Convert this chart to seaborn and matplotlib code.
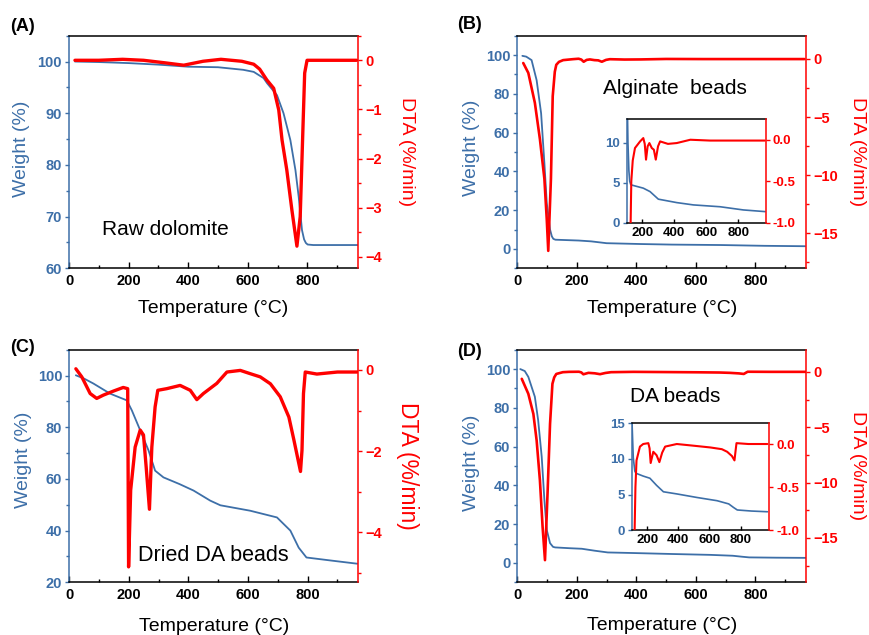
import matplotlib
matplotlib.use("Agg")
import matplotlib.pyplot as plt
import seaborn as sns
import pandas as pd
from matplotlib.ticker import MultipleLocator

sns.set_theme(style="ticks")
plt.rcParams['font.family'] = ['Liberation Sans', 'DejaVu Sans']
plt.rcParams['axes.unicode_minus'] = True

BLUE = "#3d6fa8"
RED = "#ff0000"

# ---------------- data ----------------
# (A) Raw dolomite
TA_w = [20, 100, 200, 300, 400, 500, 585, 620, 653, 665, 698, 720, 743, 760, 771, 782, 789, 795, 801, 820, 900, 970]
WA = [100.0, 99.9, 99.7, 99.4, 99.0, 98.9, 98.4, 98.0, 96.8, 95.8, 93.5, 90.0, 84.8, 79.0, 73.8, 67.4, 65.6, 64.9, 64.6, 64.5, 64.5, 64.5]
TA_d = [20, 100, 180, 250, 320, 385, 450, 510, 580, 620, 640, 664, 687, 704, 715, 731, 748, 765, 776, 785, 791, 799, 850, 900, 965]
DA = [0.0, 0.0, 0.02, 0.0, -0.05, -0.1, -0.02, 0.02, -0.02, -0.08, -0.18, -0.4, -0.57, -1.01, -1.62, -2.23, -3.04, -3.78, -3.18, -1.42, -0.26, 0.0, 0.0, 0.0, 0.0]

# (B) Alginate beads
TB_w = [17, 30, 48, 65, 80, 91, 99, 110, 116, 121, 128, 206, 248, 300, 415, 519, 686, 831, 967]
WB = [99.6, 99.2, 97.4, 87.0, 70.0, 44.3, 23.7, 10.0, 6.5, 5.2, 4.75, 4.33, 3.9, 2.95, 2.52, 2.23, 2.0, 1.6, 1.39]
TB_d = [20, 37, 59, 76, 91, 99, 104, 113, 119, 126, 131, 140, 154, 186, 206, 215, 223, 233, 244, 259, 272, 284, 298, 311, 360, 415, 500, 623, 800, 965]
DB = [-0.35, -1.2, -3.77, -6.9, -10.3, -13.8, -16.5, -10.3, -3.2, -1.1, -0.5, -0.25, -0.1, -0.02, 0.02, -0.05, -0.24, -0.08, -0.04, -0.10, -0.12, -0.24, -0.08, -0.02, -0.05, -0.04, 0.0, -0.01, -0.01, -0.01]

# (C) Dried DA beads
TC_w = [22, 50, 81, 137, 193, 210, 238, 266, 288, 316, 370, 417, 473, 507, 607, 697, 742, 770, 796, 880, 966]
WC = [100.1, 98.8, 96.9, 93.0, 90.4, 86.5, 78.8, 71.0, 63.2, 60.6, 58.0, 55.5, 51.6, 49.8, 47.7, 45.1, 40.0, 33.4, 29.6, 28.4, 27.2]
TC_d = [22, 42, 70, 92, 114, 148, 181, 196, 199, 206, 221, 238, 249, 258, 269, 277, 288, 297, 327, 372, 406, 428, 450, 495, 529, 574, 607, 641, 675, 708, 737, 754, 776, 781, 786, 792, 831, 900, 966]
DC = [0.03, -0.17, -0.58, -0.7, -0.62, -0.52, -0.43, -0.46, -4.85, -2.96, -1.9, -1.48, -1.6, -2.39, -3.43, -1.9, -0.91, -0.5, -0.46, -0.38, -0.5, -0.73, -0.58, -0.33, -0.05, -0.01, -0.09, -0.17, -0.34, -0.66, -1.16, -1.73, -2.5, -1.98, -0.58, -0.05, -0.1, -0.05, -0.05]

# (D) DA beads
TD_w = [10, 25, 37, 59, 70, 82, 91, 99, 110, 120, 127, 174, 217, 260, 304, 390, 520, 649, 724, 755, 779, 870, 973]
WD = [100.0, 99.0, 96.0, 85.7, 73.7, 54.8, 32.5, 17.0, 10.2, 8.3, 8.0, 7.6, 7.3, 6.3, 5.4, 5.1, 4.6, 4.15, 3.7, 3.2, 2.85, 2.7, 2.6]
TD_d = [15, 37, 54, 65, 76, 85, 93, 102, 110, 118, 124, 131, 153, 174, 207, 215, 222, 239, 260, 278, 296, 315, 390, 500, 606, 680, 714, 745, 761, 768, 774, 850, 973]
DD = [-0.63, -1.98, -3.8, -6.2, -9.8, -14.0, -17.0, -10.7, -4.7, -1.08, -0.5, -0.19, -0.03, 0.0, 0.01, -0.05, -0.22, -0.09, -0.13, -0.21, -0.1, -0.03, 0.0, -0.02, -0.04, -0.06, -0.09, -0.14, -0.19, -0.08, 0.01, 0.0, 0.0]

PANEL_LABELS = ["(A)", "(B)", "(C)", "(D)"]
SAMPLE_NAMES = ["Raw dolomite", "Alginate  beads", "Dried DA beads", "DA beads"]
XLABEL = "Temperature (°C)"
YLABEL_L = "Weight (%)"
YLABEL_R = "DTA (%/min)"

fig = plt.figure(figsize=(8.69, 6.35), dpi=100)
W_PX, H_PX = 869.0, 635.0


def rect(l, t, r, b):
    return [l / W_PX, 1 - b / H_PX, (r - l) / W_PX, (b - t) / H_PX]


def style(ax, ax2, lsize=10.5, llen=3):
    for s in ["top", "bottom"]:
        ax.spines[s].set_color("black")
        ax.spines[s].set_linewidth(1.1)
    ax.spines["left"].set_color(BLUE)
    ax.spines["left"].set_linewidth(1.1)
    ax.spines["right"].set_visible(False)
    for s in ["top", "bottom", "left"]:
        ax2.spines[s].set_visible(False)
    ax2.spines["right"].set_color(RED)
    ax2.spines["right"].set_linewidth(1.1)
    ax.tick_params(axis="x", which="both", direction="in", colors="black", width=1, labelsize=lsize, pad=4)
    ax.tick_params(axis="x", which="major", length=4)
    ax.tick_params(axis="x", which="minor", length=2.5)
    ax.tick_params(axis="y", which="both", direction="out", color=BLUE, labelcolor=BLUE, width=1, labelsize=lsize, pad=2)
    ax.tick_params(axis="y", which="major", length=llen)
    ax.tick_params(axis="y", which="minor", length=llen * 0.7)
    ax2.tick_params(axis="y", which="both", direction="out", color=RED, labelcolor=RED, width=1, labelsize=lsize, pad=2)
    ax2.tick_params(axis="y", which="major", length=llen)
    ax2.tick_params(axis="y", which="minor", length=llen * 0.7)
    plt.setp(ax.get_xticklabels(), fontweight="bold")
    plt.setp(ax.get_yticklabels(), fontweight="bold")
    plt.setp(ax2.get_yticklabels(), fontweight="bold")
    ax.set_xlabel("")
    ax.set_ylabel("")
    ax2.set_ylabel("")
    ax.grid(False)
    ax2.grid(False)


def panel(r, Tw, Wv, Td, Dv, wlim, wmaj, wmin, dlim, dmaj, dmin, red_lw, lab_pos):
    ax = fig.add_axes(rect(*r))
    ax2 = ax.twinx()
    dfw = pd.DataFrame({"T": Tw, "W": Wv})
    dfd = pd.DataFrame({"T": Td, "D": Dv})
    sns.lineplot(data=dfw, x="T", y="W", ax=ax, color=BLUE, lw=1.3, sort=False, estimator=None)
    sns.lineplot(data=dfd, x="T", y="D", ax=ax2, color=RED, lw=red_lw, sort=False, estimator=None)
    ax.set_xlim(0, 970)
    ax.xaxis.set_major_locator(MultipleLocator(200))
    ax.xaxis.set_minor_locator(MultipleLocator(100))
    ax.set_ylim(*wlim)
    ax.yaxis.set_major_locator(MultipleLocator(wmaj))
    ax.yaxis.set_minor_locator(MultipleLocator(wmin))
    ax2.set_ylim(*dlim)
    ax2.yaxis.set_major_locator(MultipleLocator(dmaj))
    ax2.yaxis.set_minor_locator(MultipleLocator(dmin))
    style(ax, ax2)
    xl_y, wl_x, wl_y, dl_x, dl_y, dsize = lab_pos
    xl = ax.set_xlabel(XLABEL, fontsize=14, color="black")
    ax.xaxis.set_label_coords(0.5, xl_y)
    xl.set_va("center")
    yl = ax.set_ylabel(YLABEL_L, fontsize=14, color=BLUE)
    ax.yaxis.set_label_coords(wl_x, wl_y)
    yl.set_va("center"); yl.set_ha("center"); yl.set_rotation_mode("anchor")
    dl = ax2.set_ylabel(YLABEL_R, fontsize=dsize, color=RED, rotation=270)
    ax2.yaxis.set_label_coords(dl_x, dl_y)
    dl.set_va("center"); dl.set_ha("center"); dl.set_rotation_mode("anchor")
    return ax, ax2


def inset(r, Tw, Wv, Td, Dv, xlim, wlim, wmaj, dlim):
    axi = fig.add_axes(rect(*r))
    axi.set_facecolor("white")
    axi2 = axi.twinx()
    sns.lineplot(x=Tw, y=Wv, ax=axi, color=BLUE, lw=1.2, sort=False, estimator=None)
    sns.lineplot(x=Td, y=Dv, ax=axi2, color=RED, lw=1.5, sort=False, estimator=None)
    axi.set_xlim(*xlim)
    axi.xaxis.set_major_locator(MultipleLocator(200))
    axi.set_ylim(*wlim)
    axi.yaxis.set_major_locator(MultipleLocator(wmaj))
    axi2.set_ylim(*dlim)
    axi2.yaxis.set_major_locator(MultipleLocator(0.5))
    axi2.yaxis.set_major_formatter(matplotlib.ticker.FormatStrFormatter("%.1f"))
    style(axi, axi2, lsize=9.5, llen=3)
    axi.tick_params(axis="x", which="major", length=3, pad=3)
    plt.setp(axi2.get_yticklabels(), fontweight="bold")
    return axi, axi2


# (A)
axA, axA2 = panel((69, 35.7, 358, 268.3), TA_w, WA, TA_d, DA,
                  (60, 105), 10, 5, (-4.23, 0.5), 1, 0.5, 2.4,
                  (-0.171, -0.164, 0.515, 1.168, 0.5, 14))
# (B)
axB, axB2 = panel((517.3, 35.7, 806, 268.3), TB_w, WB, TB_d, DB,
                  (-10, 110), 20, 10, (-18, 2), 5, 2.5, 1.9,
                  (-0.171, -0.157, 0.517, 1.178, 0.5, 14))
# (C)
axC, axC2 = panel((69.3, 349.7, 358.3, 582.3), TC_w, WC, TC_d, DC,
                  (20, 110), 20, 10, (-5.23, 0.5), 2, 1, 2.4,
                  (-0.188, -0.157, 0.526, 1.170, 0.5, 16.5))
# (D)
axD, axD2 = panel((517.3, 349.7, 806, 582.3), TD_w, WD, TD_d, DD,
                  (-10, 110), 20, 10, (-19, 2), 5, 2.5, 1.9,
                  (-0.184, -0.157, 0.513, 1.178, 0.5, 14))

# insets
inset((627.3, 119, 765.7, 222.7), TB_w, WB, TB_d, DB, (106, 971), (0, 13), 5, (-1.0, 0.25))
inset((631.7, 423.3, 769.3, 530.3), TD_w, WD, TD_d, DD, (100, 985), (0, 15), 5, (-1.0, 0.24))

# sample names
axA.text(0.332, 0.165, SAMPLE_NAMES[0], transform=axA.transAxes, fontsize=15, ha="center", va="center", color="black")
axB.text(0.546, 0.771, SAMPLE_NAMES[1], transform=axB.transAxes, fontsize=15, ha="center", va="center", color="black")
axC.text(0.5, 0.114, SAMPLE_NAMES[2], transform=axC.transAxes, fontsize=15.5, ha="center", va="center", color="black")
axD.text(0.546, 0.797, SAMPLE_NAMES[3], transform=axD.transAxes, fontsize=15, ha="center", va="center", color="black")

# panel letters
for lab, (x, y) in zip(PANEL_LABELS, [(0.0115, 0.958), (0.5255, 0.961), (0.0115, 0.452), (0.5255, 0.4465)]):
    fig.text(x, y, lab, fontsize=13, fontweight="bold", ha="left", va="center", color="black")

fig.savefig("out.png", dpi=100)
